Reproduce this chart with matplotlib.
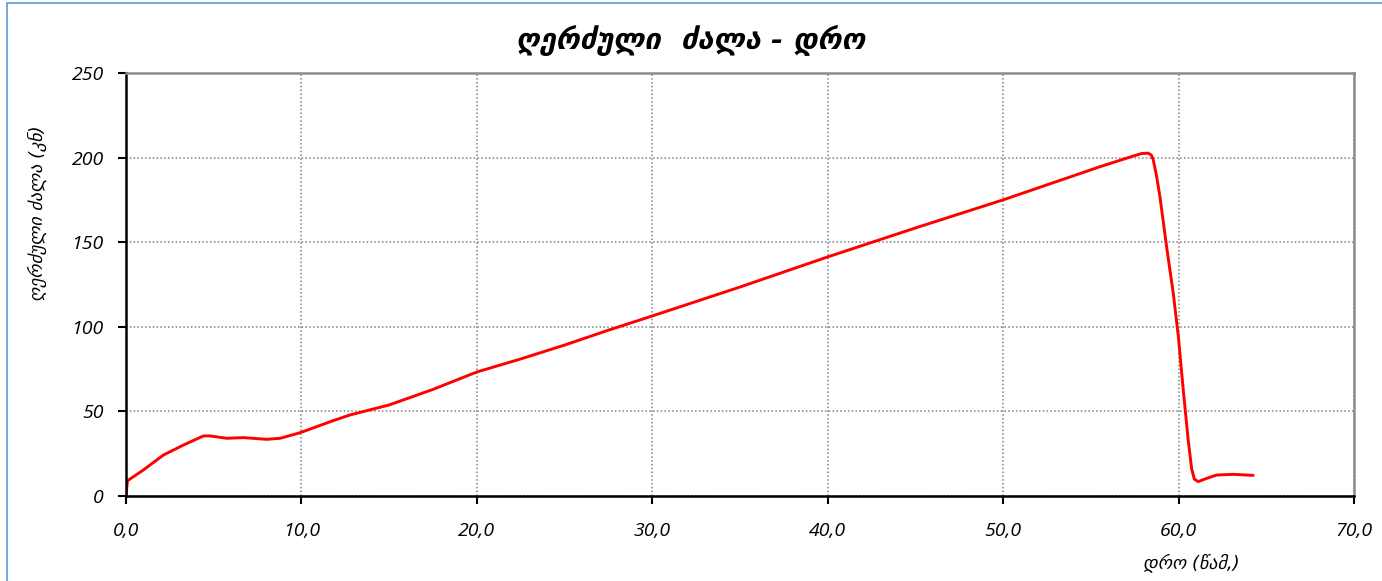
import matplotlib
matplotlib.use("Agg")
import matplotlib.pyplot as plt
from matplotlib.patches import Rectangle
from matplotlib.ticker import FuncFormatter, MultipleLocator

# time (s) vs axial force (kN)
time_s = [0.0, 0.08, 0.99, 2.13, 3.27, 4.41, 4.79, 5.74, 6.69, 8.02, 8.78, 9.92,
          11.8, 12.77, 15.0, 17.5, 20.0, 22.5, 25.0, 27.5, 30.0, 35.0, 40.0,
          45.0, 50.0, 55.52, 57.42, 57.9, 58.27, 58.45, 58.56, 58.75, 58.94,
          59.32, 59.70, 59.99, 60.27, 60.55, 60.75, 60.9, 61.12, 61.6, 62.17,
          63.12, 64.26]
force_kn = [0.5, 9.0, 15.4, 24.2, 30.1, 35.5, 35.5, 34.1, 34.5, 33.5, 34.1, 37.4,
            44.5, 47.9, 53.8, 63.0, 73.3, 81.0, 89.2, 98.0, 106.4, 123.5, 141.3,
            158.4, 175.0, 194.6, 200.9, 202.4, 202.6, 201.5, 198.6, 189.0, 176.9,
            147.3, 119.8, 94.2, 62.6, 33.1, 16.0, 10.0, 8.5, 10.4, 12.4,
            12.8, 12.2]

TITLE = "ღერძული  ძალა - დრო"
YLABEL = "ღერძული ძალა (კნ)"
XLABEL = "დრო (წამ,)"

FONT = ["Open Sans", "DejaVu Sans"]
GEO = ["DejaVu Sans"]

fig = plt.figure(figsize=(13.82, 5.81), dpi=100)
ax = fig.add_axes([0.0912, 0.1463, 0.8885, 0.7281])

ax.plot(time_s, force_kn, color="#ff0000", linewidth=2.1,
        solid_joinstyle="round", solid_capstyle="round")

ax.set_xlim(0, 70)
ax.set_ylim(0, 250)
ax.xaxis.set_major_locator(MultipleLocator(10))
ax.yaxis.set_major_locator(MultipleLocator(50))
ax.xaxis.set_major_formatter(FuncFormatter(lambda v, p: f"{v:.1f}".replace(".", ",")))
ax.yaxis.set_major_formatter(FuncFormatter(lambda v, p: f"{v:.0f}"))

ax.grid(True, color="#808080", linestyle=(0, (1, 1.5)), linewidth=1.1)
for s in ("left", "bottom"):
    ax.spines[s].set_color("black")
    ax.spines[s].set_linewidth(1.8)
for s in ("top", "right"):
    ax.spines[s].set_color("#8c8c8c")
    ax.spines[s].set_linewidth(1.8)

ax.tick_params(axis="both", direction="out", length=6, width=1.5, color="black")
ax.tick_params(axis="x", pad=13)
ax.tick_params(axis="y", pad=10)
for lab in ax.get_xticklabels() + ax.get_yticklabels():
    lab.set_fontfamily(FONT)
    lab.set_fontstyle("italic")
    lab.set_fontsize(14)

fig.text(0.5, 0.93, TITLE, ha="center", va="center", fontsize=21,
         fontstyle="italic", fontweight="bold", family=GEO)
fig.text(0.027, 0.633, YLABEL, ha="center", va="center", rotation=90,
         fontsize=13, fontstyle="italic", family=GEO)
fig.text(0.862, 0.031, XLABEL, ha="center", va="center",
         fontsize=13, fontstyle="italic", family=GEO)

# light blue frame of the chart object
fig.patches.append(Rectangle((7 / 1382, -0.1), 1.2, 1.0 - 3 / 581 + 0.1,
                             transform=fig.transFigure, fill=False,
                             edgecolor="#5b9bd5", linewidth=1.2))

fig.savefig("out.png", dpi=100)
